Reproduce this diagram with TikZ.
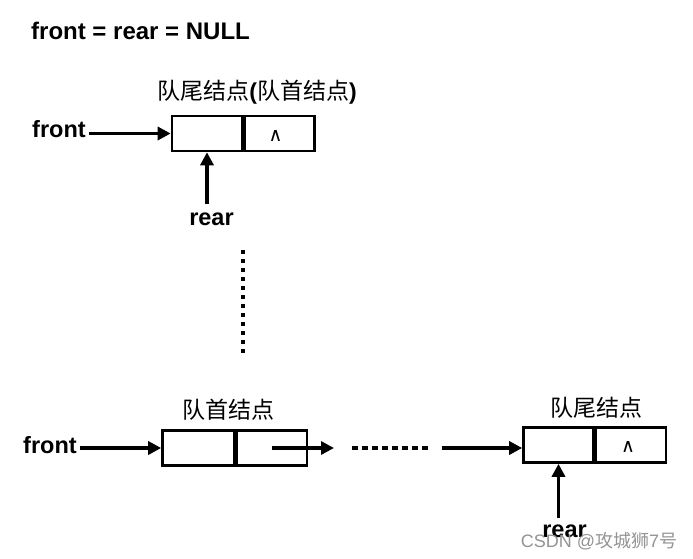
\documentclass[tikz,border=0pt]{standalone}
\usepackage{fontspec}
\setmainfont{Liberation Sans}
\newfontfamily\cjk{Noto Sans CJK SC}
\newfontfamily\symf{DejaVu Sans}
\usetikzlibrary{arrows.meta}
\begin{document}
\begin{tikzpicture}[x=1pt,y=-1pt,
  cell/.style={draw,line width=2.6pt,minimum width=70pt,minimum height=35pt,inner sep=0pt},
  lbl/.style={font=\fontsize{23.5}{23.5}\selectfont\bfseries,inner sep=0pt},
  ttl/.style={font=\fontsize{23}{23}\selectfont\cjk,inner sep=0pt},
  arr/.style={line width=3.4pt,-{Triangle[length=13pt,width=13pt]}},
  nul/.style={font=\fontsize{19}{19}\selectfont\symf,inner sep=0pt},
  dots/.style={line width=4pt}]
\useasboundingbox[fill=white] (0,0) rectangle (693,559);

% heading
\node[lbl,anchor=base west,font=\fontsize{24}{24}\selectfont\bfseries] (head) at (31,39.5) {front = rear = NULL};

% top single node
\node[ttl] (t1) at (257,92) {队尾结点{\rmfamily\bfseries(}队首结点{\rmfamily\bfseries)}};
\node[cell] (a1) at (207,133.5) {};
\node[cell,anchor=west] (a2) at (a1.east) {};
\node[nul] (n1) at ([xshift=-4pt,yshift=-2pt]a2.center) {∧};
\node[lbl,anchor=base west] (f1) at (32,137) {front};
\node[lbl,anchor=base] (r1) at (211.5,225) {rear};
\draw[arr] ([xshift=3pt]f1.east |- a1.west) -- (a1.west);
\draw[arr] ([yshift=8pt]a1.south |- r1.north) -- (a1.south);

% vertical dotted
\coordinate (v1) at (243,250);
\coordinate (v2) at (243,354);
\draw[dots,dash pattern=on 4pt off 5pt] (v1) -- (v2);

% bottom list
\node[ttl] (t2) at (228.5,410) {队首结点};
\node[cell,minimum width=72pt] (b1l) at (198.5,448) {};
\node[cell,anchor=west] (b1r) at (b1l.east) {};
\node[lbl,anchor=base west] (f2) at (23,453) {front};
\draw[arr] ([xshift=3pt]f2.east |- b1l.west) -- (b1l.west);

\coordinate (d1) at (334,448);
\draw[arr] (b1r.center) -- (d1);
\coordinate (d2) at (352,448);
\coordinate (d3) at (430,448);
\draw[dots,dash pattern=on 6pt off 4pt] (d2) -- (d3);
\coordinate (d4) at (442,448);

\node[ttl] (t3) at (596.5,408) {队尾结点};
\node[cell] (b2l) at (558.5,445) {};
\node[cell,anchor=west] (b2r) at (b2l.east) {};
\node[nul] (n2) at ([xshift=-3pt,yshift=-2pt]b2r.center) {∧};
\draw[arr] (d4) -- (b2l.west |- d4);

\node[lbl,anchor=base] (r2) at (564.5,537) {rear};
\draw[arr] ([yshift=6pt]b2l.south |- r2.north) -- (b2l.south);

% watermark
\node[inner sep=0pt,text=black!42,font=\fontsize{18}{18}\selectfont] (wm) at (599,541) {CSDN @{\cjk 攻城狮}7{\cjk 号}};
\end{tikzpicture}
\end{document}
